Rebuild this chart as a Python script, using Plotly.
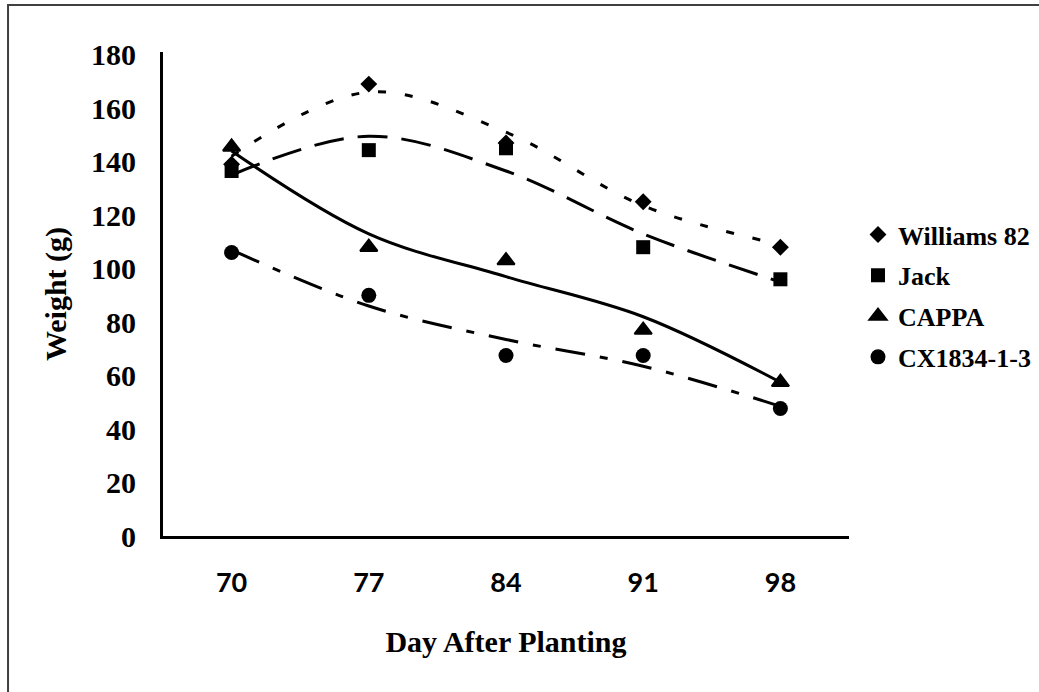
import plotly.graph_objects as go

# ---- data ----
days = [70, 77, 84, 91, 98]
day_labels = ["70", "77", "84", "91", "98"]

williams = [139, 169, 147, 125, 108]
jack = [136.5, 144.3, 145, 108, 96]
cappa = [145.5, 108, 103, 77, 57.5]
cx = [106, 90, 67.5, 67.5, 47.7]

# trendline values at each day
williams_trend = [142, 166, 151, 123.5, 109]
jack_trend = [135, 149.5, 136.5, 113, 95]
cappa_trend = [144, 113, 97, 82, 57.5]
cx_trend = [107, 86, 73.5, 63.5, 48.5]

series = [
    ("Williams 82", williams, williams_trend, "diamond", 13, "8px,19px"),
    ("Jack", jack, jack_trend, "square", 14, "30px,14px"),
    ("CAPPA", cappa, cappa_trend, "triangle-up", 15, "solid"),
    ("CX1834-1-3", cx, cx_trend, "circle", 15, "30px,15px,8px,15px"),
]

serif = "Liberation Serif, Times New Roman, serif"

fig = go.Figure()
for name, vals, trend, sym, size, dash in series:
    fig.add_trace(go.Scatter(
        x=days, y=trend, mode="lines", line=dict(color="black", width=3, dash=dash, shape="spline"),
        showlegend=False, hoverinfo="skip"))
for i, (name, vals, trend, sym, size, dash) in enumerate(series):
    fig.add_trace(go.Scatter(
        x=days, y=vals, mode="markers", name=name, legendgroup=f"g{i}",
        marker=dict(symbol=sym, size=size, color="black",
                    line=dict(color="black", width=2 if sym == "triangle-up" else 0))))

fig.update_layout(
    width=1039, height=692,
    margin=dict(l=163, r=190, t=52, b=156),
    paper_bgcolor="white", plot_bgcolor="white",
    xaxis=dict(range=[66.5, 101.5], tickvals=days, ticktext=day_labels,
               showline=True, linecolor="black", linewidth=3, showgrid=False, zeroline=False,
               ticks="", ticklabelstandoff=21, automargin=False,
               tickfont=dict(family="Lato, Open Sans, sans-serif", size=27, color="black", weight="bold"),
               title=dict(text="Day After Planting", standoff=34,
                          font=dict(family=serif, size=30, color="black", weight="bold"))),
    yaxis=dict(range=[0, 181], tickvals=list(range(0, 181, 20)),
               showline=True, linecolor="black", linewidth=3, showgrid=False, zeroline=False,
               ticks="", ticklabelstandoff=18, automargin=False,
               tickfont=dict(family=serif, size=30, color="black", weight="bold"),
               title=dict(text="Weight (g)", standoff=16,
                          font=dict(family=serif, size=30, color="black", weight="bold"))),
    legend=dict(xref="container", yref="container", x=0.8258, y=0.695,
                xanchor="left", yanchor="top", traceorder="grouped",
                tracegroupgap=4, bgcolor="rgba(0,0,0,0)",
                font=dict(family=serif, size=26, color="black", weight="bold")),
    shapes=[dict(type="rect", xref="paper", yref="paper", x0=-0.2259, x1=1.6, y0=-0.6, y1=1.097,
                 line=dict(color="#404040", width=2), fillcolor="rgba(0,0,0,0)", layer="below")],
)

fig.write_html("out.html", config={"displayModeBar": False},
               post_script="document.body.style.margin='0';document.body.style.overflow='hidden';")
